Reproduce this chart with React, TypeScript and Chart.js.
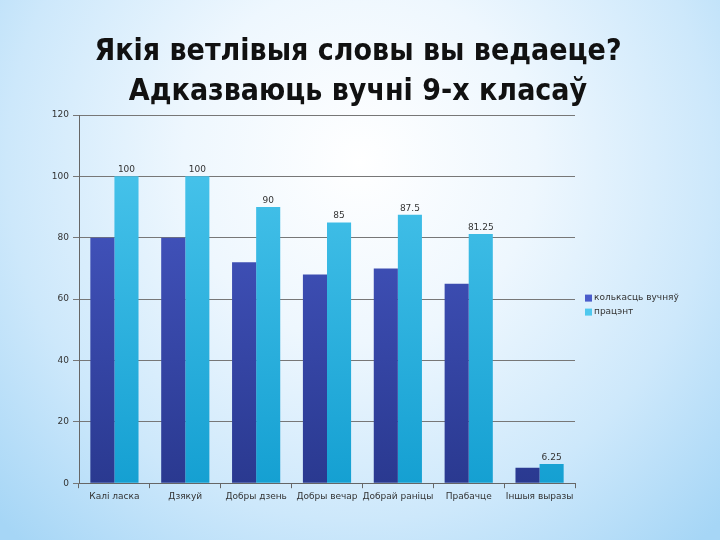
import React, { useEffect, useRef } from "react";
import { Chart, registerables } from "chart.js";

Chart.register(...registerables);

const titleLines = ["Якія ветлівыя словы вы ведаеце?", "Адказваюць вучні 9-х класаў"];
const categories = ["Калі ласка", "Дзякуй", "Добры дзень", "Добры вечар", "Добрай раніцы", "Прабачце", "Іншыя выразы"];
const seriesNames = ["колькасць вучняў", "працэнт"];
const studentCounts = [80, 80, 72, 68, 70, 65, 5];
const percents = [100, 100, 90, 85, 87.5, 81.25, 6.25];
const percentLabels = ["100", "100", "90", "85", "87.5", "81.25", "6.25"];
const yTicks = [0, 20, 40, 60, 80, 100, 120];

const darkTop = "#4a5ccb";
const darkBottom = "#2a3990";
const lightTop = "#4ec8ee";
const lightBottom = "#15a0d2";

function makeGradient(chart: any, top: string, bottom: string) {
  const area = chart.chartArea;
  if (!area) return top;
  const g = chart.ctx.createLinearGradient(0, area.top, 0, area.bottom);
  g.addColorStop(0, top);
  g.addColorStop(1, bottom);
  return g;
}

const decorations = {
  id: "decorations",
  afterDatasetsDraw(chart: any) {
    const ctx = chart.ctx;
    const area = chart.chartArea;
    const meta = chart.getDatasetMeta(1);
    ctx.save();
    // value labels
    ctx.font = "9px 'DejaVu Sans'";
    ctx.fillStyle = "#333";
    ctx.textAlign = "center";
    ctx.textBaseline = "bottom";
    meta.data.forEach((bar: any, i: number) => {
      ctx.fillText(percentLabels[i], bar.x, bar.y - 2);
    });
    // title
    ctx.font = "bold 30px 'DejaVu Sans Condensed', 'DejaVu Sans'";
    ctx.fillStyle = "#111";
    ctx.textBaseline = "alphabetic";
    titleLines.forEach((t, i) => ctx.fillText(t, 358, 60 + i * 40));
    // legend
    const lx = area.right + 10;
    const midY = (area.top + area.bottom) / 2;
    const colors = [darkTop, lightTop];
    ctx.font = "9px 'DejaVu Sans'";
    ctx.textAlign = "left";
    ctx.textBaseline = "middle";
    seriesNames.forEach((name, i) => {
      const y = midY - 1 + i * 14;
      ctx.fillStyle = colors[i];
      ctx.fillRect(lx, y - 3.5, 7, 7);
      ctx.fillStyle = "#333";
      ctx.fillText(name, lx + 9, y);
    });
    ctx.restore();
  },
};

export default function App() {
  const ref = useRef<HTMLCanvasElement>(null);
  useEffect(() => {
    if (!ref.current) return;
    const chart = new Chart(ref.current, {
      type: "bar",
      data: {
        labels: categories,
        datasets: [
          {
            label: seriesNames[0],
            data: studentCounts,
            backgroundColor: (c: any) => makeGradient(c.chart, darkTop, darkBottom),
            borderWidth: 0,
          },
          {
            label: seriesNames[1],
            data: percents,
            backgroundColor: (c: any) => makeGradient(c.chart, lightTop, lightBottom),
            borderWidth: 0,
          },
        ],
      },
      options: {
        animation: false,
        responsive: false,
        layout: { padding: { top: 115, left: 0, right: 145, bottom: 35 } },
        datasets: { bar: { categoryPercentage: 0.68, barPercentage: 1 } } as any,
        plugins: {
          title: { display: false },
          legend: { display: false },
          tooltip: { enabled: false },
        },
        scales: {
          x: {
            grid: { drawOnChartArea: false, drawTicks: true, tickLength: 5, offset: true, color: "#666" },
            border: { color: "#666" },
            ticks: { color: "#333", font: { family: "'DejaVu Sans'", size: 9 }, maxRotation: 0, autoSkip: false },
          },
          y: {
            min: 0,
            max: 120,
            afterBuildTicks: (axis: any) => {
              axis.ticks = yTicks.map((v) => ({ value: v }));
            },
            afterFit: (axis: any) => {
              axis.width = 79;
            },
            grid: { color: "#777", tickLength: 6, lineWidth: 1 },
            border: { color: "#666" },
            ticks: { color: "#333", font: { family: "'DejaVu Sans'", size: 9 }, padding: 4 },
          },
        },
      },
      plugins: [decorations],
    });
    return () => chart.destroy();
  }, []);
  return (
    <div
      style={{
        position: "fixed",
        left: 0,
        top: 0,
        width: 720,
        height: 540,
        background:
          "radial-gradient(ellipse 70% 95% at 50% 30%, #ffffff 0%, #eef7fe 35%, #cde8fb 70%, #a6d6f6 100%)",
      }}
    >
      <canvas ref={ref} width={720} height={540} />
    </div>
  );
}
